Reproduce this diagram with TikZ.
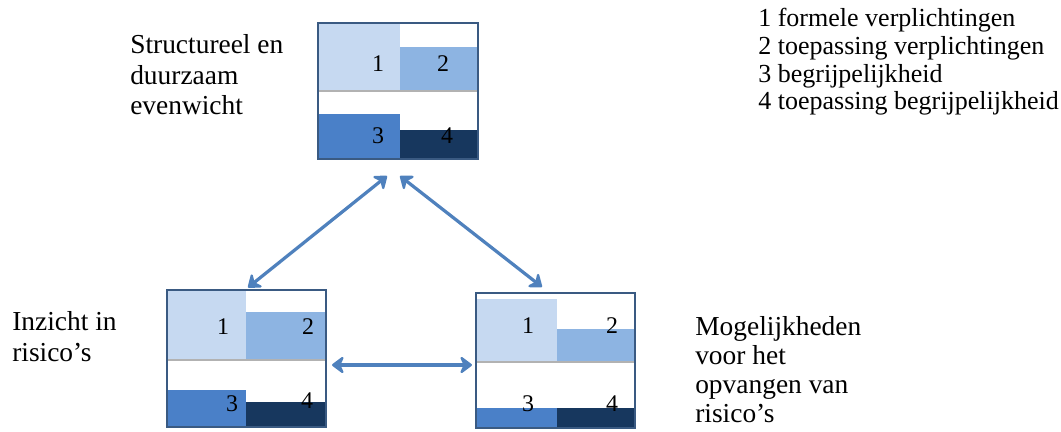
\documentclass[tikz,border=0pt]{standalone}
\usepackage{fontspec}
\setmainfont{Liberation Serif}
\usetikzlibrary{arrows.meta}

\definecolor{licht}{HTML}{C6D9F1}
\definecolor{midden}{HTML}{8DB4E2}
\definecolor{blauw}{HTML}{4A80C8}
\definecolor{donker}{HTML}{17375E}
\definecolor{rand}{HTML}{3A5A82}
\definecolor{pijlkleur}{HTML}{4F81BD}

\tikzset{
  kader/.style={draw=rand, line width=1.4pt, inner sep=0pt, minimum width=3.975cm, minimum height=3.4cm},
  pijl/.style={{Stealth[length=10pt,width=15pt,inset=3.5pt,round]}-{Stealth[length=10pt,width=15pt,inset=3.5pt,round]}, pijlkleur, line width=2.3pt},
  schaduw/.style={gray!60, line width=1pt},
  cijfer/.style={inner sep=0pt, font=\fontsize{17}{18}\selectfont},
  tekst/.style={align=left, inner sep=0pt, anchor=base west},
}

\begin{document}
\begin{tikzpicture}[x=0.025cm, y=-0.025cm]
  \useasboundingbox (0,0) rectangle (1061,432);

  % Bovenste kader
  \fill[licht] (319,23) rectangle (400,90);
  \fill[midden] (400,47) rectangle (477,90);
  \draw[schaduw] (319,91) -- (477,91);
  \fill[blauw] (319,114) rectangle (400,159);
  \fill[donker] (400,130) rectangle (477,159);
  \node[kader] (boven) at (398,91) {};
  \node[cijfer] (b1) at (378,64) {1};
  \node[cijfer] (b2) at (443,64) {2};
  \node[cijfer] (b3) at (378,136) {3};
  \node[cijfer] (b4) at (447,136) {4};

  % Linker kader
  \fill[licht] (167,290) rectangle (246,359);
  \fill[midden] (246,312) rectangle (326,359);
  \draw[schaduw] (167,360) -- (326,360);
  \fill[blauw] (167,390) rectangle (246,427);
  \fill[donker] (246,402) rectangle (326,427);
  \node[kader] (links) at (246.5,358.5) {};
  \node[cijfer] (l1) at (223,327) {1};
  \node[cijfer] (l2) at (308,327) {2};
  \node[cijfer] (l3) at (232,404) {3};
  \node[cijfer] (l4) at (307,401) {4};

  % Rechter kader
  \fill[licht] (476,299) rectangle (557,361);
  \fill[midden] (557,329) rectangle (635,361);
  \draw[schaduw] (476,362) -- (635,362);
  \fill[blauw] (476,408) rectangle (557,428);
  \fill[donker] (557,408) rectangle (635,428);
  \node[kader, minimum height=3.375cm] (rechts) at (555.5,360.5) {};
  \node[cijfer] (r1) at (528,326) {1};
  \node[cijfer] (r2) at (612,326) {2};
  \node[cijfer] (r3) at (528,404) {3};
  \node[cijfer] (r4) at (612,404) {4};

  % Pijlen
  \draw[pijl] ([shift={(-11,16)}]boven.south) -- ([shift={(1.5,-2)}]links.north);
  \draw[pijl] ([shift={(2,16)}]boven.south) -- ([shift={(-13.5,-5)}]rechts.north);
  \draw[pijl] ([shift={(5,6.5)}]links.east) -- ([shift={(-3,4.5)}]rechts.west);

  % Teksten (anker op de basislijn van de laatste regel)
  \node[tekst, font=\fontsize{19.5}{22}\selectfont] (structureel) at (130,115)
    {Structureel en\\duurzaam\\evenwicht};
  \node[tekst, font=\fontsize{19.5}{22.7}\selectfont] (inzicht) at (12,362)
    {Inzicht in\\risico’s};
  \node[tekst, font=\fontsize{19.5}{20.8}\selectfont] (mogelijk) at (695,423)
    {Mogelijkheden\\voor het\\opvangen van\\risico’s};
  \node[tekst, font=\fontsize{18.5}{19.7}\selectfont] (legenda) at (758,110)
    {1 formele verplichtingen\\2 toepassing verplichtingen\\3 begrijpelijkheid\\4 toepassing begrijpelijkheid};
\end{tikzpicture}
\end{document}
